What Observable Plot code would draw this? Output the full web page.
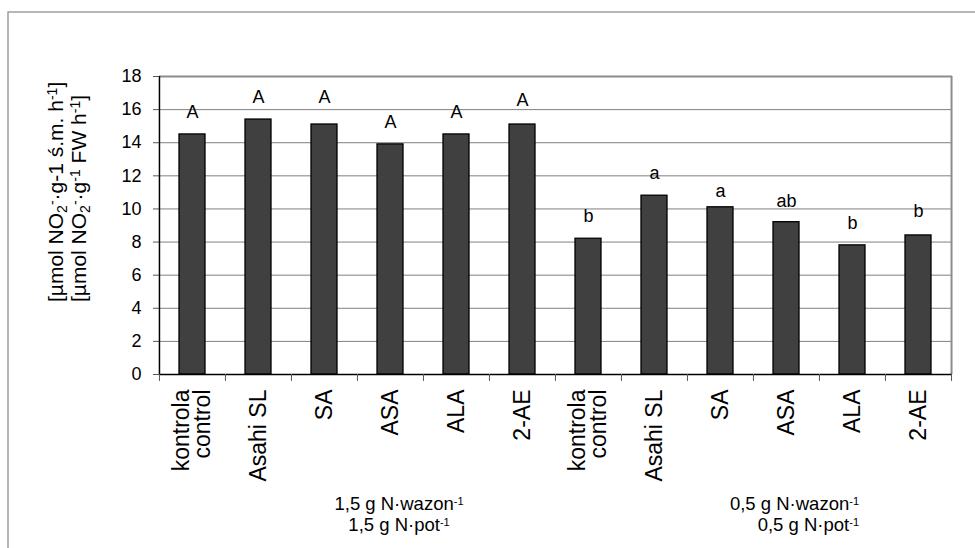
<!DOCTYPE html>
<html><head><meta charset="utf-8">
<script src="https://cdn.jsdelivr.net/npm/d3@7"></script>
<script src="https://cdn.jsdelivr.net/npm/@observablehq/plot@0.6"></script>
<style>body{margin:0;background:#fff}svg{display:block}</style>
</head><body><div id="chart"></div>
<script>
const treatments = ["kontrola\ncontrol","Asahi SL","SA","ASA","ALA","2-AE","kontrola\ncontrol","Asahi SL","SA","ASA","ALA","2-AE"];
const values = [14.5,15.4,15.1,13.9,14.5,15.1,8.2,10.8,10.1,9.2,7.8,8.4];
const letters = ["A","A","A","A","A","A","b","a","a","ab","b","b"];
const letterY = [15.5,16.4,16.4,14.9,15.5,16.2,9.2,11.8,10.7,10.1,8.8,9.5];
const yTicks = [0,2,4,6,8,10,12,14,16,18];
const groupLine1 = ["1,5 g N·wazon","0,5 g N·wazon"];
const groupLine2 = ["1,5 g N·pot","0,5 g N·pot"];
const yLabel1 = [["[µmol NO",""],["2","sub"],["-","super"],["·g-1 ś.m. h",""],["-1","super"],["]",""]];
const yLabel2 = [["[µmol NO",""],["2","sub"],["-","super"],["·g",""],["-1","super"],[" FW h",""],["-1","super"],["]",""]];

const keys = treatments.map((t,i)=>i);
const data = values.map((v,i)=>({key:i,value:v,letter:letters[i],ly:letterY[i]}));
const W=975,H=548,mL=159,mR=23,mT=76,mB=174;
const step=(W-mL-mR)/keys.length;
const font="'Liberation Sans', Arial, Helvetica, sans-serif";

const plot = Plot.plot({
  width:W,height:H,marginLeft:mL,marginRight:mR,marginTop:mT,marginBottom:mB,
  style:{fontFamily:font,background:"white",color:"black"},
  x:{type:"band",domain:keys,paddingInner:0.6,paddingOuter:0.3,label:null},
  y:{domain:[0,18],label:null},
  marks:[
    Plot.ruleY(yTicks.filter(d=>d>0&&d<18),{stroke:"#808080",strokeWidth:1}),
    Plot.ruleY([18],{stroke:"#8c8c8c",strokeWidth:1.8}),
    Plot.ruleX([keys[keys.length-1]],{x:d=>d,dx:step/2,y1:0,y2:18,stroke:"#8c8c8c",strokeWidth:2}),
    Plot.barY(data,{x:"key",y:"value",fill:"#404040",stroke:"black",strokeWidth:1.3}),
    Plot.ruleY([0],{stroke:"black",strokeWidth:1.5}),
    Plot.ruleX(keys,{x:d=>d,dx:-step/2,y1:0,y2:-0.42,stroke:"#555"}),
    Plot.ruleX([keys[keys.length-1]],{x:d=>d,dx:step/2,y1:0,y2:-0.42,stroke:"#555"}),
    Plot.ruleX([keys[0]],{x:d=>d,dx:-step/2,y1:0,y2:18,stroke:"black",strokeWidth:1.5}),
    Plot.text(data,{x:"key",y:"ly",text:"letter",lineAnchor:"bottom",fontSize:18,fill:"black"}),
    Plot.axisY({ticks:yTicks,tickSize:6,tickPadding:12,fontSize:18,stroke:"#555"}),
    Plot.axisX({tickFormat:i=>treatments[i],tickRotate:-90,tickSize:0,tickPadding:15,fontSize:23,lineHeight:0.95})
  ]
});
document.getElementById("chart").appendChild(plot);

const svg=d3.select(plot);
svg.append("path").attr("d",`M8,${H} V12 H${W}`).attr("fill","none").attr("stroke","#a0a0a0").attr("stroke-width",1.5);

function richText(g,parts,supSize){
  parts.forEach(([s,t])=>{
    const ts=g.append("tspan").text(s);
    if(t){ts.attr("baseline-shift",t==="sub"?"-25%":"45%").attr("font-size",supSize);}
  });
}
const yl=svg.append("g").attr("font-family",font).attr("font-size",21).attr("fill","black");
[[63,yLabel1],[86,yLabel2]].forEach(([x,parts])=>{
  const t=yl.append("text").attr("transform",`translate(${x},302) rotate(-90)`).attr("text-anchor","start");
  richText(t,parts,14);
});

const xs=plot.scale("x");
const cx=i=>xs.apply(i)+xs.bandwidth/2;
const gl=svg.append("g").attr("font-family",font).attr("font-size",18.5).attr("fill","black");
const gpos=[{x:cx(3)+9,anchor:"middle"},{x:cx(10)+7,anchor:"end"}];
gpos.forEach((p,j)=>{
  [[510,groupLine1[j]],[531,groupLine2[j]]].forEach(([y,s])=>{
    const t=gl.append("text").attr("x",p.x).attr("y",y).attr("text-anchor",p.anchor);
    richText(t,[[s,""],["-1","super"]],11);
  });
});
</script></body></html>
